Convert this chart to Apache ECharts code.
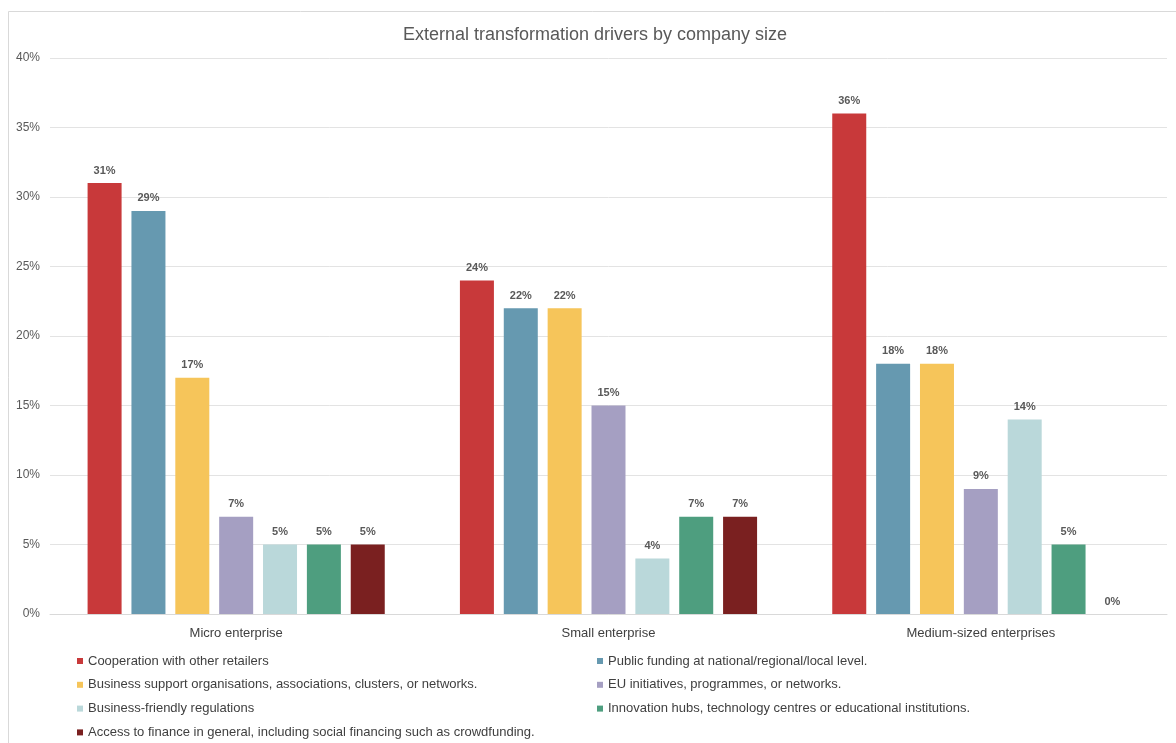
<!DOCTYPE html>
<html>
<head>
<meta charset="utf-8">
<script src="https://cdn.jsdelivr.net/npm/echarts@6/dist/echarts.min.js"></script>
<style>
  html, body { margin: 0; padding: 0; background: #ffffff; }
  #chart { width: 1176px; height: 743px; }
</style>
</head>
<body>
<div id="chart"></div>
<script>
// Company size groups along the x axis
const categories = ['Micro enterprise', 'Small enterprise', 'Medium-sized enterprises'];

// Share of companies (%) naming each external driver, per size group
const cooperation = [31, 24, 36];
const publicFunding = [29, 22, 18];
const supportOrgs = [17, 22, 18];
const euInitiatives = [7, 15, 9];
const regulations = [5, 4, 14];
const innovationHubs = [5, 7, 5];
const financeAccess = [5, 7, 0];

const driverNames = [
  'Cooperation with other retailers',
  'Public funding at national/regional/local level.',
  'Business support organisations, associations, clusters, or networks.',
  'EU initiatives, programmes, or networks.',
  'Business-friendly regulations',
  'Innovation hubs, technology centres or educational institutions.',
  'Access to finance in general, including social financing such as crowdfunding.'
];
const driverValues = [cooperation, publicFunding, supportOrgs, euInitiatives, regulations, innovationHubs, financeAccess];
const driverColors = ['#C8393A', '#6699B0', '#F6C55A', '#A59FC2', '#BAD8DA', '#4E9E7F', '#7A2020'];

const yTicks = [0, 5, 10, 15, 20, 25, 30, 35, 40];

const FONT = '"Liberation Sans", Arial, Helvetica, sans-serif';

const series = driverNames.map((name, i) => ({
  name: name,
  type: 'bar',
  data: driverValues[i],
  barWidth: 34,
  barGap: '29%',
  itemStyle: { color: driverColors[i] },
  label: {
    show: true,
    position: 'top',
    distance: 7,
    formatter: '{c}%',
    fontFamily: FONT,
    fontSize: 11,
    fontWeight: 'bold',
    color: '#595959'
  }
}));

const legendText = { fontFamily: FONT, fontSize: 13, color: '#404040', lineHeight: 16 };
const legendBase = {
  orient: 'vertical',
  top: 653,
  height: 100,
  padding: 0,
  itemWidth: 6, itemHeight: 6, itemGap: 7.8,
  icon: 'rect',
  textStyle: legendText
};

const chart = echarts.init(document.getElementById('chart'), null, { renderer: 'canvas' });
chart.setOption({
  animation: false,
  backgroundColor: '#ffffff',
  graphic: [{
    type: 'rect',
    shape: { x: 8.5, y: 11.5, width: 1200, height: 760 },
    style: { fill: 'none', stroke: '#d9d9d9', lineWidth: 1 },
    silent: true,
    z: -1
  }],
  title: {
    text: 'External transformation drivers by company size',
    left: 590,
    top: 21,
    textAlign: 'center',
    textStyle: { fontFamily: FONT, fontSize: 18, fontWeight: 'normal', color: '#595959' }
  },
  grid: { left: 50, right: 9, top: 58, bottom: 129, containLabel: false },
  xAxis: {
    type: 'category',
    data: categories,
    axisTick: { show: false },
    axisLine: { lineStyle: { color: '#d9d9d9', width: 1 } },
    axisLabel: { fontFamily: FONT, fontSize: 13, color: '#404040', margin: 13 }
  },
  yAxis: {
    type: 'value',
    min: yTicks[0],
    max: yTicks[yTicks.length - 1],
    interval: 5,
    axisLine: { show: false },
    axisTick: { show: false },
    splitLine: { lineStyle: { color: '#e3e3e3', width: 1 } },
    axisLabel: { formatter: '{value}%', fontFamily: FONT, fontSize: 12, color: '#595959', margin: 10 }
  },
  legend: [
    Object.assign({}, legendBase, {
      left: 77,
      data: [driverNames[0], driverNames[2], driverNames[4], driverNames[6]]
    }),
    Object.assign({}, legendBase, {
      left: 597,
      data: [driverNames[1], driverNames[3], driverNames[5]]
    })
  ],
  series: series
});
</script>
</body>
</html>
